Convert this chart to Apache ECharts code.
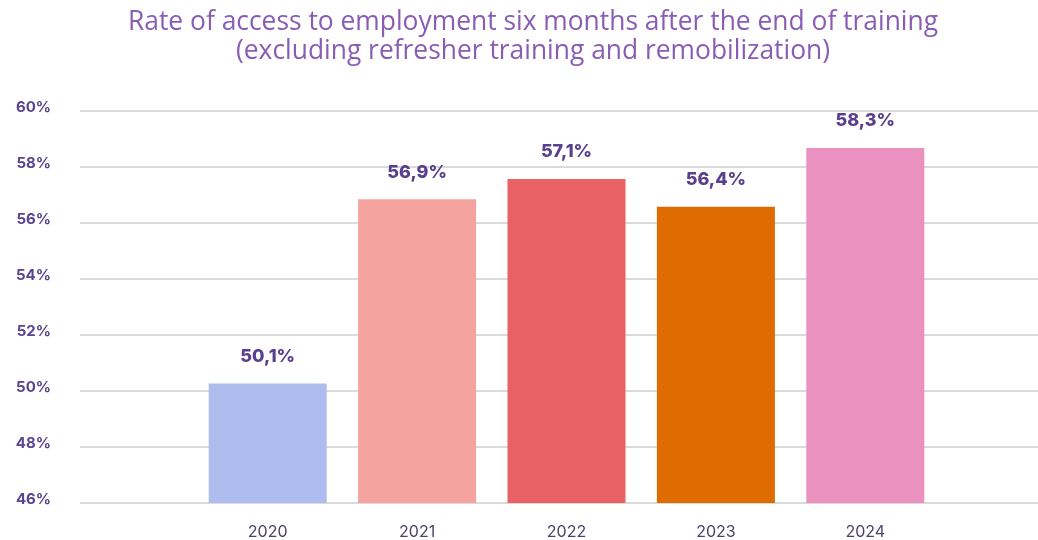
<!DOCTYPE html>
<html>
<head>
<meta charset="utf-8">
<script src="https://cdn.jsdelivr.net/npm/echarts@6/dist/echarts.min.js"></script>
<style>
html,body{margin:0;padding:0;background:#fff;}
#chart{width:1038px;height:540px;}
</style>
</head>
<body>
<div id="chart"></div>
<script>
// Data
const categories = ['2020', '2021', '2022', '2023', '2024'];
const barValues = [50.27, 56.85, 57.57, 56.58, 58.68];   // bar heights as drawn
const barLabels = ['50,1%', '56,9%', '57,1%', '56,4%', '58,3%']; // printed labels
const yMin = 46, yMax = 60, yStep = 2;

const barColors = ['#aebcee', '#f4a39e', '#e86265', '#de6c00', '#ea91c0'];

const chart = echarts.init(document.getElementById('chart'), null, {renderer: 'canvas'});
const gridTop = 111, gridBottom = 37;

const option = {
  animation: false,
  backgroundColor: '#ffffff',
  title: {
    text: 'Rate of access to employment six months after the end of training\n(excluding refresher training and remobilization)',
    left: 533,
    textAlign: 'center',
    top: 8,
    padding: 0,
    textStyle: {
      color: '#8a5db5',
      fontFamily: 'Open Sans',
      fontWeight: 'normal',
      fontSize: 26.4,
      lineHeight: 29,
      align: 'center'
    }
  },
  grid: [
    {left: 80, right: 0, top: gridTop, bottom: gridBottom},
    {left: 193, right: 98, top: gridTop, bottom: gridBottom}
  ],
  xAxis: [
    {gridIndex: 0, type: 'value', min: 0, max: 1, show: false},
    {
      gridIndex: 1, type: 'category', data: categories,
      axisLine: {show: false}, axisTick: {show: false},
      axisLabel: {
        margin: 21, color: '#4d4168', fontFamily: 'Inter', fontSize: 16
      }
    }
  ],
  yAxis: [
    {
      gridIndex: 0, type: 'value', min: yMin, max: yMax, interval: yStep,
      axisLine: {show: false}, axisTick: {show: false},
      axisLabel: {
        formatter: '{value}%', margin: 29, color: '#5a4390',
        fontFamily: 'Inter', fontWeight: 'bold', fontSize: 15,
        verticalAlign: 'bottom', padding: [0, 0, -4, 0]
      },
      splitLine: {lineStyle: {color: '#dadada', width: 2}}
    },
    {
      gridIndex: 1, type: 'value', min: yMin, max: yMax, interval: yStep,
      show: false, splitLine: {show: false}
    }
  ],
  series: [
    {
      type: 'bar',
      xAxisIndex: 1, yAxisIndex: 1,
      barWidth: 118,
      data: barValues.map((v, i) => ({value: v, itemStyle: {color: barColors[i]}})),
      label: {
        show: true, position: 'top', distance: 18,
        formatter: p => barLabels[p.dataIndex],
        color: '#5a3f8e', fontFamily: 'Inter', fontWeight: 800, fontSize: 18
      }
    }
  ]
};
chart.setOption(option);
</script>
</body>
</html>
